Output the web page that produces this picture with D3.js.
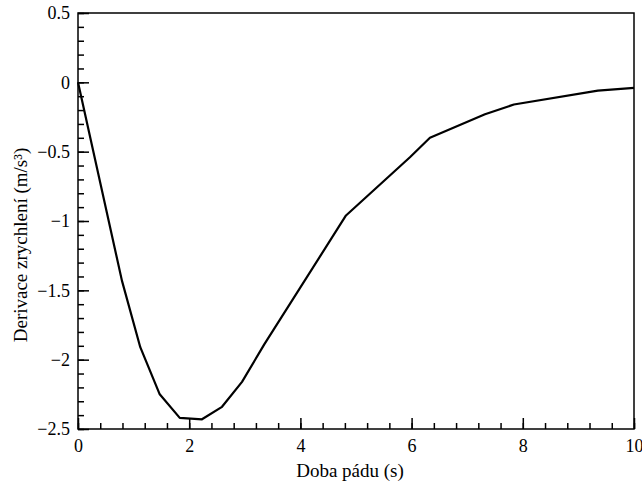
<!DOCTYPE html>
<style>* {padding:0; margin:0; border:0;} body {background:#fff;}</style>
<body>
<script src="https://cdn.jsdelivr.net/npm/d3@7"></script>
<script>
// doba padu (s) vs derivace zrychleni (m/s^3)
var tValues = [0, 0.79, 1.12, 1.47, 1.83, 2.23, 2.59, 2.95, 3.35, 4.82, 5.97, 6.33, 7.32, 7.84, 9.35, 10];
var jerkValues = [0, -1.43, -1.91, -2.25, -2.42, -2.43, -2.34, -2.16, -1.89, -0.96, -0.54, -0.40, -0.23, -0.16, -0.06, -0.04];
var xTicks = [0, 2, 4, 6, 8, 10];
var yTicks = [0.5, 0, -0.5, -1, -1.5, -2, -2.5];

var W = 642, H = 484;
var mLeft = 78, mRight = 634, mTop = 13, mBottom = 429;
var serif = '"Liberation Serif", "Times New Roman", serif';

var svg = d3.select('body').append('svg')
  .attr('width', W).attr('height', H)
  .style('font-family', serif);

var x = d3.scaleLinear().domain([0, 10]).range([mLeft, mRight]);
var y = d3.scaleLinear().domain([-2.5, 0.5]).range([mBottom, mTop]);

function fmt(v) { return String(v).replace('-', '\u2212'); }

// bottom axis, ticks inside
svg.append('g')
  .attr('transform', 'translate(0,' + mBottom + ')')
  .call(d3.axisBottom(x).tickValues(d3.range(0, 10.01, 0.4)).tickSizeInner(-6).tickSizeOuter(0).tickFormat(''))
  .call(function(g){ g.select('.domain').remove(); g.selectAll('line').attr('stroke-width', 1.5); });
svg.append('g')
  .attr('transform', 'translate(0,' + mBottom + ')')
  .call(d3.axisBottom(x).tickValues(xTicks).tickSizeInner(-11).tickSizeOuter(0).tickFormat(fmt))
  .call(function(g){
    g.select('.domain').remove();
    g.attr('font-family', serif).attr('font-size', 18);
    g.selectAll('line').attr('stroke-width', 1.5);
    g.selectAll('text').attr('fill', '#000').attr('y', 9).attr('dy', '0.75em');
  });

// left axis, ticks inside
svg.append('g')
  .attr('transform', 'translate(' + mLeft + ',0)')
  .call(d3.axisLeft(y).tickValues(d3.range(-2.5, 0.501, 0.1)).tickSizeInner(-6).tickSizeOuter(0).tickFormat(''))
  .call(function(g){ g.select('.domain').remove(); g.selectAll('line').attr('stroke-width', 1.5); });
svg.append('g')
  .attr('transform', 'translate(' + mLeft + ',0)')
  .call(d3.axisLeft(y).tickValues(yTicks).tickSizeInner(-11).tickSizeOuter(0).tickFormat(fmt))
  .call(function(g){
    g.select('.domain').remove();
    g.attr('font-family', serif).attr('font-size', 18);
    g.selectAll('line').attr('stroke-width', 1.5);
    g.selectAll('text').attr('fill', '#000').attr('x', -8);
  });

// frame
svg.append('rect')
  .attr('x', mLeft).attr('y', mTop)
  .attr('width', mRight - mLeft).attr('height', mBottom - mTop)
  .attr('fill', 'none').attr('stroke', '#000').attr('stroke-width', 1.5);

// curve
var pts = tValues.map(function(t, i){ return [t, jerkValues[i]]; });
svg.append('path')
  .datum(pts)
  .attr('fill', 'none')
  .attr('stroke', '#000')
  .attr('stroke-width', 2.2)
  .attr('stroke-linejoin', 'round')
  .attr('d', d3.line().x(function(d){ return x(d[0]); }).y(function(d){ return y(d[1]); }));

// titles
svg.append('text')
  .attr('x', 350).attr('y', 477)
  .attr('text-anchor', 'middle')
  .attr('font-size', 19)
  .text('Doba pádu (s)');

svg.append('text')
  .attr('transform', 'translate(27,245) rotate(-90)')
  .attr('text-anchor', 'middle')
  .attr('font-size', 19)
  .text('Derivace zrychlení (m/s³)');
</script>
